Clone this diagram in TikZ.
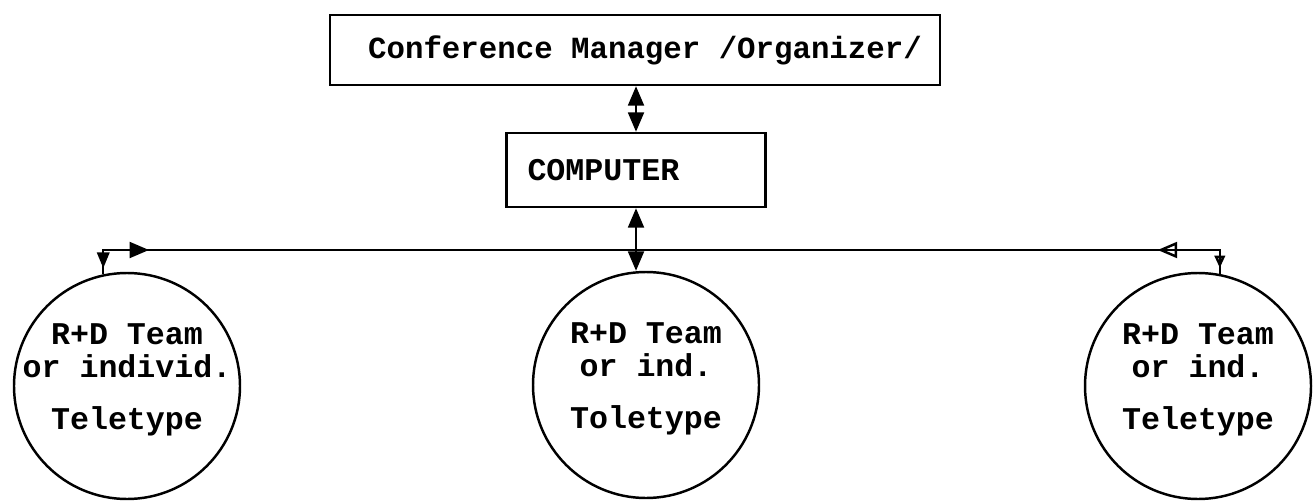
\documentclass[tikz,border=0pt]{standalone}
\usepackage{fontspec}
\setmonofont{Liberation Mono}
\usepackage{tikz}
\usetikzlibrary{arrows.meta, positioning, decorations.markings}

\begin{document}
\begin{tikzpicture}[
  mgrbox/.style={rectangle, draw=black, line width=1.4pt,
                 minimum height=1.4cm, minimum width=12.2cm,
                 font=\ttfamily\bfseries\fontsize{17.5}{21}\selectfont, align=center},
  compbox/.style={rectangle, draw=black, line width=1.4pt,
                  minimum height=1.48cm, minimum width=5.18cm, text width=4.34cm,
                  inner xsep=0.42cm, font=\ttfamily\bfseries\fontsize{18}{21}\selectfont, align=left},
  unit/.style={circle, draw=black, line width=1.4pt, minimum size=4.52cm, inner sep=0pt},
  unittxt/.style={font=\ttfamily\bfseries\fontsize{18}{18.5}\selectfont, align=center, inner sep=0pt},
  arr2/.style={{Triangle[length=11pt,width=9pt]}-{Triangle[length=11pt,width=9pt]}, line width=1.4pt},
  bus/.style={line width=1.4pt, postaction={decorate}},
  every node/.style={font=\ttfamily}
]
  \useasboundingbox (0,0) rectangle (26.28,10.04);
  \node[mgrbox] (mgr) at (12.70, 9.04) {\hspace*{0.4cm}Conference Manager /Organizer/};
  \node[compbox] (comp) at (12.72, 6.64) {COMPUTER};
  \node[unit] (lt)  at (2.54, 2.32) {};
  \node[unit] (mid) at (12.92, 2.34) {};
  \node[unit] (rt)  at (23.96, 2.32) {};
  \node[unittxt] (lttx)  at ([yshift=0.12cm]lt.center)  {R+D Team\\or individ.\\[11pt]Teletype};
  \node[unittxt] (midtx) at ([yshift=0.12cm]mid.center) {R+D Team\\or ind.\\[11pt]Toletype};
  \node[unittxt] (rttx)  at ([yshift=0.12cm]rt.center)  {R+D Team\\or ind.\\[11pt]Teletype};
  \coordinate (jn) at (comp.south |- 0, 5.04);
  \draw[arr2] (mgr.south -| comp.north) -- (comp.north);
  \draw[arr2] (comp.south) -- (comp.south |- mid.north);
  \draw[bus, decoration={markings,
      mark=at position 0.12cm with {\arrowreversed{Triangle[length=9pt,width=7pt]}},
      mark=at position 1.40cm with {\arrow{Triangle[length=11pt,width=9pt]}}}]
    (lt.102) |- (jn);
  \draw[bus, decoration={markings,
      mark=at position 0.12cm with {\arrowreversed{Triangle[open,length=7pt,width=6pt]}},
      mark=at position 1.72cm with {\arrow{Triangle[open,length=11pt,width=9pt]}}}]
    (rt.79) |- (jn);
\end{tikzpicture}
\end{document}
